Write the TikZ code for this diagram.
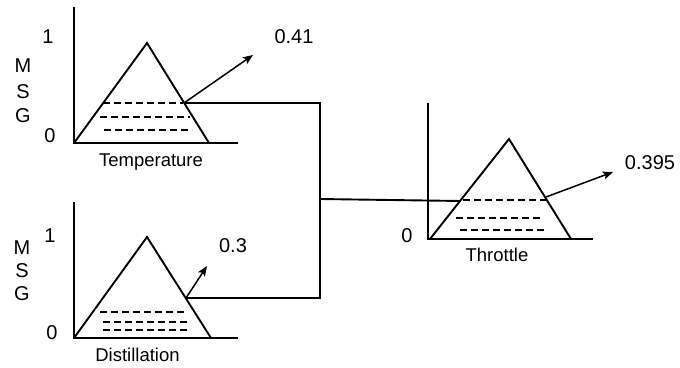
\documentclass[tikz,border=0pt]{standalone}
\usepackage{fontspec}
\setmainfont{Liberation Sans}
\usetikzlibrary{arrows.meta}
\begin{document}
\begin{tikzpicture}[x=1pt,y=-1pt,
  ln/.style={line width=1.9pt,line cap=butt,line join=miter},
  dsh/.style={line width=1.7pt,dash pattern=on 7pt off 4pt},
  arr/.style={line width=1.5pt,-{Stealth[length=10pt,width=8pt,inset=2pt]}},
  big/.style={font=\fontsize{20}{24}\selectfont,anchor=base,inner sep=0pt},
  lbl/.style={font=\fontsize{18.5}{22}\selectfont,anchor=base,inner sep=0pt}]
\useasboundingbox (0,0) rectangle (680,367);
% ---------- top chart (Temperature)
\coordinate (tO) at (74,143);
\coordinate (tY) at (74,7);
\coordinate (tX) at (238,143);
\coordinate (tA) at (147,43);
\coordinate (tR) at (209,143);
\coordinate (tC) at (184,103);
\draw[ln] (tY) -- (tO) -- (tX);
\draw[ln] (tO) -- (tA) -- (tR);
\draw[dsh] (103,103) -- (183,103);
\draw[dsh] (100,117) -- (190,117);
\draw[dsh] (104,130) -- (192,130);
\coordinate (tArr) at (253,55);
\draw[arr] (tC) -- (tArr);
\node[big] (t1) at (48,43) {1};
\node[big] (tM) at (23,72) {M};
\node[big] (tS) at (23,98) {S};
\node[big] (tG) at (23,122) {G};
\node[big] (t0) at (50,142) {0};
\node[big] (tv) at (294,43) {0.41};
\node[lbl] (tl) at (151,166) {Temperature};
% ---------- bottom chart (Distillation)
\coordinate (bO) at (74,338);
\coordinate (bY) at (74,202);
\coordinate (bX) at (238,338);
\coordinate (bA) at (147,237);
\coordinate (bR) at (211,338);
\coordinate (bC) at (186,298);
\draw[ln] (bY) -- (bO) -- (bX);
\draw[ln] (bO) -- (bA) -- (bR);
\draw[dsh] (100,312) -- (185,312);
\draw[dsh] (103,322) -- (188,322);
\draw[dsh] (103,330) -- (190,330);
\coordinate (bArr) at (207,266);
\draw[arr] (bC) -- (bArr);
\node[big] (b1) at (50,242) {1};
\node[big] (bM) at (22,254) {M};
\node[big] (bS) at (22,277) {S};
\node[big] (bG) at (22,300) {G};
\node[big] (b0) at (52,339) {0};
\node[big] (bv) at (233,252) {0.3};
\node[lbl] (bl) at (137.5,361) {Distillation};
% ---------- connector
\coordinate (jT) at (320,103);
\coordinate (jB) at (320,298);
\coordinate (jM) at (320,199);
\draw[ln] (tC) -- (jT) -- (jB) -- (bC);
% ---------- right chart (Throttle)
\coordinate (rO) at (428,239);
\coordinate (rY) at (428,103);
\coordinate (rX) at (593,239);
\coordinate (rL) at (430,239);
\coordinate (rA) at (509,139);
\coordinate (rR) at (571,239);
\coordinate (rC) at (461,201);
\coordinate (rD) at (546,197);
\draw[ln] (rY) -- (rO) -- (rX);
\draw[ln] (rL) -- (rA) -- (rR);
\draw[ln] (jM) -- (rC);
\draw[dsh] (463,200) -- (548,200);
\draw[dsh] (456,218) -- (543,218);
\draw[dsh] (460,230) -- (547,230);
\coordinate (rArr) at (613,172);
\draw[arr] (rD) -- (rArr);
\node[big] (r0) at (407,242) {0};
\node[big] (rv) at (650,169) {0.395};
\node[lbl] (rl) at (497,261) {Throttle};
\end{tikzpicture}
\end{document}
